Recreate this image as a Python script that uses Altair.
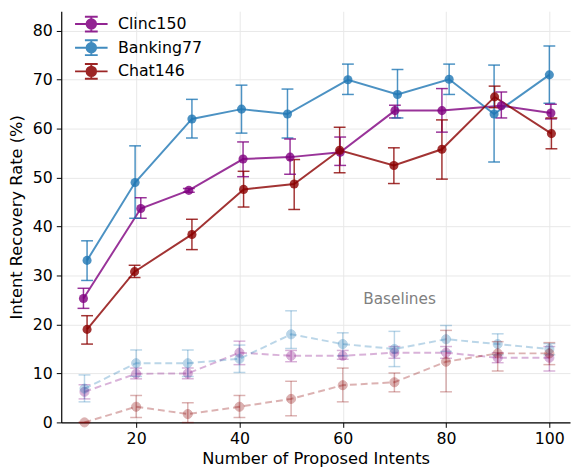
import altair as alt
import pandas as pd

series = ["Clinc150", "Banking77", "Chat146"]
colors = ["#800080", "#1f77b4", "#8b0000"]

x_ticks = [20, 40, 60, 80, 100]
y_ticks = [0, 10, 20, 30, 40, 50, 60, 70, 80]

# ---- proposed method (solid) ----
clinc_x = [9.8, 20.9, 30.2, 40.7, 49.8, 59.5, 70.1, 79.2, 90.7, 100.3]
clinc_y = [25.3, 43.7, 47.4, 53.8, 54.2, 55.2, 63.7, 63.7, 64.7, 63.2]
clinc_lo = [23.3, 41.7, 47.0, 50.2, 50.7, 52.5, 62.2, 59.3, 62.2, 62.0]
clinc_hi = [27.4, 45.9, 47.8, 57.3, 57.9, 58.3, 64.8, 68.2, 67.5, 65.0]

bank_x = [10.5, 19.8, 30.8, 40.4, 49.3, 61.0, 70.6, 80.6, 89.3, 100.0]
bank_y = [33.1, 49.0, 62.0, 64.0, 63.0, 70.0, 67.0, 70.1, 63.0, 71.0]
bank_lo = [29.0, 41.7, 58.1, 59.1, 58.1, 67.0, 62.2, 67.0, 53.2, 65.2]
bank_hi = [37.1, 56.5, 66.0, 68.9, 68.1, 73.2, 72.1, 73.2, 73.0, 76.9]

chat_x = [10.5, 19.7, 30.8, 40.8, 50.6, 59.4, 69.9, 79.2, 89.4, 100.4]
chat_y = [19.0, 30.8, 38.4, 47.6, 48.7, 55.6, 52.5, 55.8, 66.5, 59.0]
chat_lo = [16.0, 29.6, 35.3, 44.0, 43.5, 51.0, 48.8, 49.7, 64.3, 55.9]
chat_hi = [21.8, 32.1, 41.5, 51.3, 53.7, 60.3, 56.1, 61.8, 68.7, 62.2]

# ---- baselines (dashed, faint) ----
base_x = [10, 20, 30, 40, 50, 60, 70, 80, 90, 100]
clinc_base_y = [6.25, 9.95, 10.0, 14.25, 13.6, 13.6, 14.25, 14.25, 13.2, 13.2]
clinc_base_lo = [4.8, 8.9, 8.9, 11.8, 12.4, 12.9, 13.1, 13.1, 12.2, 10.5]
clinc_base_hi = [7.7, 11.1, 11.1, 16.6, 14.7, 14.7, 15.5, 15.5, 14.25, 15.5]

bank_base_y = [6.9, 12.1, 12.1, 13.0, 18.0, 16.0, 15.0, 17.0, 16.0, 15.0]
bank_base_lo = [4.2, 9.4, 9.4, 10.2, 15.1, 13.6, 11.4, 14.5, 13.8, 13.8]
bank_base_hi = [9.7, 14.8, 14.8, 15.8, 22.8, 18.3, 18.6, 19.8, 18.1, 16.1]

chat_base_y = [0.0, 3.2, 1.7, 3.2, 4.8, 7.6, 8.2, 12.4, 14.1, 14.1]
chat_base_lo = [0.0, 1.0, 0.0, 1.0, 1.35, 4.2, 6.25, 6.25, 10.5, 11.8]
chat_base_hi = [0.0, 5.5, 4.0, 5.5, 8.4, 11.1, 10.1, 18.8, 16.5, 16.3]

note_x = [71]
note_y = [25.2]
note_text = ["Baselines"]


def frame(name, xs, ys, los, his):
    return pd.DataFrame({"series": name, "x": xs, "y": ys, "lo": los, "hi": his})


main_df = pd.concat([
    frame("Clinc150", clinc_x, clinc_y, clinc_lo, clinc_hi),
    frame("Banking77", bank_x, bank_y, bank_lo, bank_hi),
    frame("Chat146", chat_x, chat_y, chat_lo, chat_hi),
], ignore_index=True)

base_frames = [
    frame("Clinc150", base_x, clinc_base_y, clinc_base_lo, clinc_base_hi),
    frame("Banking77", base_x, bank_base_y, bank_base_lo, bank_base_hi),
    frame("Chat146", base_x, chat_base_y, chat_base_lo, chat_base_hi),
]

note_df = pd.DataFrame({"x": note_x, "y": note_y, "t": note_text})

FONT = "DejaVu Sans"

X = alt.X("x:Q", scale=alt.Scale(domain=[5.5, 104], nice=False, zero=False),
          axis=alt.Axis(values=x_ticks, title="Number of Proposed Intents"))
Y = alt.Y("y:Q", scale=alt.Scale(domain=[0, 84], nice=False),
          axis=alt.Axis(values=y_ticks, title="Intent Recovery Rate (%)"))
Xs = alt.X("x:Q")

LEG_PATH = ("M-1.65,0H1.65M0,-0.75V0.75M-0.65,-0.75H0.65M-0.65,0.75H0.65"
            "M0.48,0A0.48,0.48,0,1,1,-0.48,0A0.48,0.48,0,1,1,0.48,0Z")
leg = alt.Legend(
    title=None, orient="none", legendX=19.5, legendY=2,
    symbolType=LEG_PATH, symbolSize=400, symbolStrokeWidth=2,
    labelFontSize=16, labelFont=FONT, labelColor="black",
    labelOffset=16, rowPadding=0, padding=0, symbolOpacity=0.85,
)

col_main = alt.Color("series:N", scale=alt.Scale(domain=series, range=colors), legend=leg)


def main_layers(df):
    base = alt.Chart(df)
    op = 0.8
    line = base.mark_line(strokeWidth=2, opacity=op).encode(
        x=X, y=Y, color=col_main, order="x:Q")
    rule = base.mark_rule(strokeWidth=1.5, opacity=op).encode(
        x=Xs, y=alt.Y("lo:Q"), y2="hi:Q", color=col_main)
    cap_lo = base.mark_tick(orient="horizontal", size=12, thickness=1.5, opacity=op).encode(
        x=Xs, y=alt.Y("lo:Q"), color=col_main)
    cap_hi = base.mark_tick(orient="horizontal", size=12, thickness=1.5, opacity=op).encode(
        x=Xs, y=alt.Y("hi:Q"), color=col_main)
    pts = base.mark_point(filled=True, size=85, opacity=op, strokeWidth=1).encode(
        x=Xs, y=alt.Y("y:Q"), color=col_main)
    return [line, rule, cap_lo, cap_hi, pts]


def base_layers(df, c):
    base = alt.Chart(df)
    op = 0.3
    rule = base.mark_rule(strokeWidth=1.5, opacity=op, color=c).encode(
        x=Xs, y=alt.Y("lo:Q"), y2="hi:Q")
    cap_lo = base.mark_tick(orient="horizontal", size=12, thickness=1.5, opacity=op, color=c).encode(
        x=Xs, y=alt.Y("lo:Q"))
    cap_hi = base.mark_tick(orient="horizontal", size=12, thickness=1.5, opacity=op, color=c).encode(
        x=Xs, y=alt.Y("hi:Q"))
    line = base.mark_line(strokeWidth=2, opacity=op, strokeDash=[7, 4], color=c).encode(
        x=Xs, y=alt.Y("y:Q"), order="x:Q")
    pts = base.mark_point(filled=True, size=85, opacity=op, strokeWidth=1, color=c, stroke=c).encode(
        x=Xs, y=alt.Y("y:Q"))
    return [rule, cap_lo, cap_hi, line, pts]


base_all = []
for df_b, c in zip(base_frames, colors):
    base_all += base_layers(df_b, c)

note = alt.Chart(note_df).mark_text(font=FONT, fontSize=15.5, color="#808080").encode(
    x=Xs, y=alt.Y("y:Q"), text="t:N")

chart = alt.layer(
    *main_layers(main_df),
    *base_all,
    note,
).properties(
    width=516, height=417,
    autosize=alt.AutoSizeParams(type="none"),
    padding={"left": 54, "top": 0, "right": 1, "bottom": 46},
).configure_view(stroke=None).configure_axis(
    labelFont=FONT, titleFont=FONT, labelFontSize=16, titleFontSize=16.5,
    labelColor="black", titleColor="black", titleFontWeight="normal",
    domainColor="black", tickColor="black", tickSize=5, labelPadding=3,
    gridColor="#e8e8e8", gridWidth=1, domainWidth=1.2,
).configure_axisX(titlePadding=5).configure_axisY(titlePadding=8, labelPadding=4)

chart.save("out.html", embed_options={"renderer": "svg", "actions": False})
